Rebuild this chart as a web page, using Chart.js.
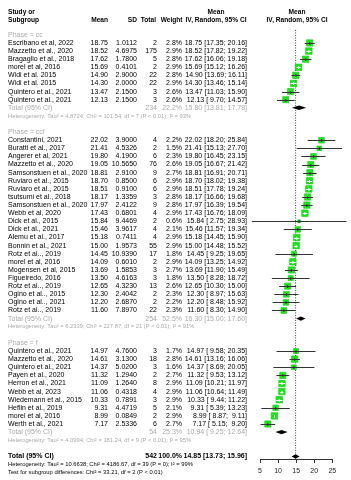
<!DOCTYPE html>
<html>
<head>
<meta charset="utf-8">
<script src="https://cdn.jsdelivr.net/npm/chart.js@4.4.0/dist/chart.umd.min.js"></script>
<style>
  html, body { margin: 0; padding: 0; background: #fff; }
  canvas { display: block; }
</style>
</head>
<body>
<canvas id="chart" width="351" height="480"></canvas>
<script>
// forest plot: mean per study, grouped by phase
const FONT = '"Liberation Sans", Arial, sans-serif';

const groups = ["cc", "ccf", "f"];

const studiesCc = ["Escribano et al, 2022", "Mazzetto et al., 2020", "Bragaglio et al., 2018", "morel et al, 2016",
  "Widi et al. 2015", "Widi et al. 2015", "Quintero et al., 2021", "Quintero et al., 2021"];
const meanCc = [18.75, 18.52, 17.62, 15.69, 14.90, 14.30, 13.47, 12.13];
const sdCc = ["1.0112", "4.6975", "1.7800", "0.4101", "2.9000", "2.0000", "2.1500", "2.1500"];
const nCc = [2, 175, 5, 2, 22, 22, 3, 3];
const weightCc = [2.8, 2.9, 2.8, 2.9, 2.8, 2.9, 2.6, 2.6];
const lowerCc = [17.35, 17.82, 16.06, 15.12, 13.69, 13.46, 11.03, 9.70];
const upperCc = [20.16, 19.22, 19.18, 16.26, 16.11, 15.14, 15.90, 14.57];

const studiesCcf = ["Constantini, 2021", "Buratti et al., 2017", "Angerer et al, 2021", "Mazzetto et al., 2020",
  "Samsonstuen et al., 2020", "Ruviaro et al., 2015", "Ruviaro et al., 2015", "tsutsumi et al., 2018",
  "Samsonstuen et al., 2020", "Webb et al, 2020", "Dick et al., 2015", "Dick et al., 2021", "Alemu et al., 2017",
  "Bonnin et al., 2021", "Rotz et al.., 2019", "morel et al, 2016", "Mogensen et al, 2015", "Figueiredo, 2016",
  "Rotz et al.., 2019", "Ogino et al.., 2015", "Ogino et al.., 2021", "Rotz et al.., 2019"];
const meanCcf = [22.02, 21.41, 19.80, 19.05, 18.81, 18.70, 18.51, 18.17, 17.97, 17.43, 15.84, 15.46, 15.18,
  15.00, 14.45, 14.09, 13.69, 13.50, 12.65, 12.30, 12.20, 11.60];
const sdCcf = ["3.9000", "4.5326", "4.1900", "10.5650", "2.9100", "0.8500", "0.9100", "1.3359", "2.4122", "0.6801",
  "9.4469", "3.9617", "0.7411", "1.9573", "10.9390", "0.6010", "1.5853", "4.6163", "4.3230", "2.4042", "2.6870", "7.8970"];
const nCcf = [4, 2, 6, 76, 9, 6, 6, 3, 9, 4, 2, 4, 4, 55, 17, 2, 3, 3, 13, 2, 2, 22];
const weightCcf = [2.2, 1.5, 2.3, 2.6, 2.7, 2.9, 2.9, 2.8, 2.8, 2.9, 0.6, 2.1, 2.9, 2.9, 1.8, 2.9, 2.7, 1.8,
  2.6, 2.3, 2.2, 2.3];
const lowerCcf = [18.20, 15.13, 16.45, 16.67, 16.91, 18.02, 17.78, 16.66, 16.39, 16.76, 2.75, 11.57, 14.45,
  14.48, 9.25, 13.25, 11.90, 8.28, 10.30, 8.97, 8.48, 8.30];
const upperCcf = [25.84, 27.70, 23.15, 21.42, 20.71, 19.38, 19.24, 19.68, 19.54, 18.09, 28.93, 19.34, 15.90,
  15.52, 19.65, 14.92, 15.49, 18.72, 15.00, 15.63, 15.92, 14.90];

const studiesF = ["Quintero et al., 2021", "Mazzetto et al., 2020", "Quintero et al., 2021", "Payen et al., 2020",
  "Herron et al., 2021", "Webb et al, 2023", "Wiedemann et al., 2015", "Heflin et al., 2019", "morel et al, 2016",
  "Werth et al., 2021"];
const meanF = [14.97, 14.61, 14.37, 11.32, 11.09, 11.06, 10.33, 9.31, 8.99, 7.17];
const sdF = ["4.7600", "3.1300", "5.0200", "1.2940", "1.2640", "0.4318", "0.7891", "4.4719", "0.0849", "2.5336"];
const nF = [3, 18, 3, 2, 8, 4, 3, 5, 2, 6];
const weightF = [1.7, 2.8, 1.6, 2.7, 2.9, 2.9, 2.9, 2.1, 2.9, 2.7];
const lowerF = [9.58, 13.16, 8.69, 9.53, 10.21, 10.64, 9.44, 5.39, 8.87, 5.15];
const upperF = [20.35, 16.06, 20.05, 13.12, 11.97, 11.49, 11.22, 13.23, 9.11, 9.20];

// subgroup totals
const totalN = [234, 254, 54];
const totalWeight = ["22.2%", "52.5%", "25.3%"];
const totalMean = [15.80, 16.30, 10.94];
const totalLower = [13.81, 15.00, 9.25];
const totalUpper = [17.78, 17.60, 12.64];
const heterogeneity = [
  "Heterogeneity: Tau² = 4.8724; Chi² = 101.54, df = 7 (P < 0.01); I² = 93%",
  "Heterogeneity: Tau² = 6.2339; Chi² = 227.87, df = 21 (P < 0.01); I² = 91%",
  "Heterogeneity: Tau² = 4.0994; Chi² = 181.24, df = 9 (P < 0.01); I² = 95%"
];

const overallN = 542;
const overallWeight = "100.0%";
const overallMean = 14.85;
const overallLower = 13.73;
const overallUpper = 15.96;
const overallHet = "Heterogeneity: Tau² = 10.6638; Chi² = 4186.67, df = 39 (P = 0); I² = 99%";
const subgroupTest = "Test for subgroup differences: Chi² = 33.21, df = 2 (P < 0.01)";

const xTicks = [5, 10, 15, 20, 25];

// ---- build rows (one y unit per text line) ----
const sets = [
  { s: studiesCc, m: meanCc, sd: sdCc, n: nCc, w: weightCc, lo: lowerCc, hi: upperCc },
  { s: studiesCcf, m: meanCcf, sd: sdCcf, n: nCcf, w: weightCcf, lo: lowerCcf, hi: upperCcf },
  { s: studiesF, m: meanF, sd: sdF, n: nF, w: weightF, lo: lowerF, hi: upperF }
];

const studyRows = [];
const summaryRows = [];
const textRows = [];
let line = 0;
sets.forEach((g, gi) => {
  textRows.push({ y: line, kind: "phase", label: "Phase = " + groups[gi] });
  line++;
  g.s.forEach((name, i) => {
    studyRows.push({ y: line, mean: g.m[i], lo: g.lo[i], hi: g.hi[i], w: g.w[i] });
    textRows.push({ y: line, kind: "study", label: name, mean: g.m[i].toFixed(2), sd: g.sd[i], n: g.n[i],
      w: g.w[i].toFixed(1) + "%", ci: ciText(g.m[i], g.lo[i], g.hi[i]) });
    line++;
  });
  summaryRows.push({ y: line, mean: totalMean[gi], lo: totalLower[gi], hi: totalUpper[gi] });
  textRows.push({ y: line, kind: "subtotal", label: "Total (95% CI)", n: totalN[gi], w: totalWeight[gi],
    ci: ciText(totalMean[gi], totalLower[gi], totalUpper[gi]) });
  line++;
  textRows.push({ y: line, kind: "subhet", label: heterogeneity[gi] });
  line += 2;
});
summaryRows.push({ y: line, mean: overallMean, lo: overallLower, hi: overallUpper });
textRows.push({ y: line, kind: "total", label: "Total (95% CI)", n: overallN, w: overallWeight,
  ci: ciText(overallMean, overallLower, overallUpper) });
textRows.push({ y: line + 1, kind: "het", label: overallHet });
textRows.push({ y: line + 2, kind: "het", label: subgroupTest });

function ciText(m, lo, hi) {
  const f = v => v.toFixed(2).padStart(5, " ");
  return f(m) + " [" + f(lo) + "; " + f(hi) + "]";
}

const ROW = 8.2;
const Y_MIN = -30 / ROW;
const Y_MAX = Y_MIN + 459 / ROW;

const forestPlugin = {
  id: "forest",
  afterDatasetsDraw(chart) {
    const { ctx, scales: { x, y } } = chart;
    ctx.save();
    // CI lines over squares
    studyRows.forEach(r => {
      const px = x.getPixelForValue(r.mean), py = Math.round(y.getPixelForValue(r.y)) + 0.5;
      const x0 = x.getPixelForValue(r.lo), x1 = x.getPixelForValue(r.hi);
      const side = 3.8 * Math.sqrt(r.w);
      const inside = (x1 - x0) < side;
      ctx.strokeStyle = inside ? "#ffffff" : "#333333";
      ctx.lineWidth = 1;
      ctx.beginPath();
      ctx.moveTo(x0, py); ctx.lineTo(x1, py);
      ctx.moveTo(px, py - 1.5); ctx.lineTo(px, py + 1.5);
      ctx.stroke();
    });
    // diamonds
    ctx.fillStyle = "#000";
    summaryRows.forEach(r => {
      const py = y.getPixelForValue(r.y);
      ctx.beginPath();
      ctx.moveTo(x.getPixelForValue(r.lo), py);
      ctx.lineTo(x.getPixelForValue(r.mean), py - 2.2);
      ctx.lineTo(x.getPixelForValue(r.hi), py);
      ctx.lineTo(x.getPixelForValue(r.mean), py + 2.2);
      ctx.closePath();
      ctx.fill();
    });

    // table text
    ctx.textBaseline = "middle";
    const put = (t, px, py, align) => { ctx.textAlign = align; ctx.fillText(t, px, py); };
    const h1 = y.getPixelForValue(-2.8), h2 = y.getPixelForValue(-1.85);
    ctx.fillStyle = "#000";
    ctx.font = "bold 6.6px " + FONT;
    put("Study or", 8, h1, "left");
    put("Subgroup", 8, h2, "left");
    put("Mean", 108, h2, "right");
    put("SD", 137, h2, "right");
    put("Total", 156, h2, "right");
    put("Weight", 182.5, h2, "right");
    put("Mean", 216, h1, "center");
    put("IV, Random, 95% CI", 216, h2, "center");
    put("Mean", 297, h1, "center");
    put("IV, Random, 95% CI", 297, h2, "center");

    textRows.forEach(r => {
      const py = y.getPixelForValue(r.y);
      if (r.kind === "phase") {
        ctx.fillStyle = "#aaaaaa"; ctx.font = "7px " + FONT;
        put(r.label, 8, py, "left");
      } else if (r.kind === "study") {
        ctx.fillStyle = "#000"; ctx.font = "7px " + FONT;
        put(r.label, 8, py, "left");
        put(r.mean, 108, py, "right");
        put(r.sd, 137, py, "right");
        put(String(r.n), 157, py, "right");
        put(r.w, 182, py, "right");
        put(r.ci, 247, py, "right");
      } else if (r.kind === "subtotal" || r.kind === "total") {
        ctx.fillStyle = r.kind === "total" ? "#000" : "#aaaaaa";
        ctx.font = (r.kind === "total" ? "bold " : "") + "7px " + FONT;
        put(r.label, 8, py, "left");
        put(String(r.n), 157, py, "right");
        put(r.w, 182, py, "right");
        put(r.ci, 247, py, "right");
      } else {
        ctx.fillStyle = r.kind === "subhet" ? "#aaaaaa" : "#000";
        ctx.font = "5.8px " + FONT;
        put(r.label, 8, py, "left");
      }
    });
    ctx.restore();
  }
};

new Chart(document.getElementById("chart").getContext("2d"), {
  type: "scatter",
  data: {
    datasets: [
      {
        type: "line",
        data: [{ x: overallMean, y: -0.6 }, { x: overallMean, y: Y_MAX }],
        borderColor: "#444",
        borderWidth: 1,
        borderDash: [1, 1.5],
        pointRadius: 0,
        clip: false,
        order: 3
      },
      {
        data: studyRows.map(r => ({ x: r.mean, y: r.y })),
        pointStyle: "rect",
        pointRadius: studyRows.map(r => 3.8 * Math.sqrt(r.w) / Math.SQRT2),
        backgroundColor: "#1be61b",
        borderColor: "#14c414",
        borderWidth: 0.6,
        clip: false,
        order: 2
      }
    ]
  },
  options: {
    responsive: false,
    animation: false,
    devicePixelRatio: 1,
    layout: { padding: { left: 260, right: 18.7, top: 0, bottom: 0 } },
    plugins: { legend: { display: false }, tooltip: { enabled: false } },
    scales: {
      x: {
        type: "linear",
        min: 5,
        max: 25,
        afterBuildTicks(s) { s.ticks = xTicks.map(v => ({ value: v })); },
        afterFit(s) { s.height = 21; },
        ticks: { font: { size: 7, family: FONT }, color: "#222", padding: 4 },
        grid: { drawOnChartArea: false, drawTicks: true, tickLength: 4, color: "#333" },
        border: { color: "#333" }
      },
      y: { type: "linear", display: false, reverse: true, min: Y_MIN, max: Y_MAX }
    }
  },
  plugins: [forestPlugin]
});
</script>
</body>
</html>
